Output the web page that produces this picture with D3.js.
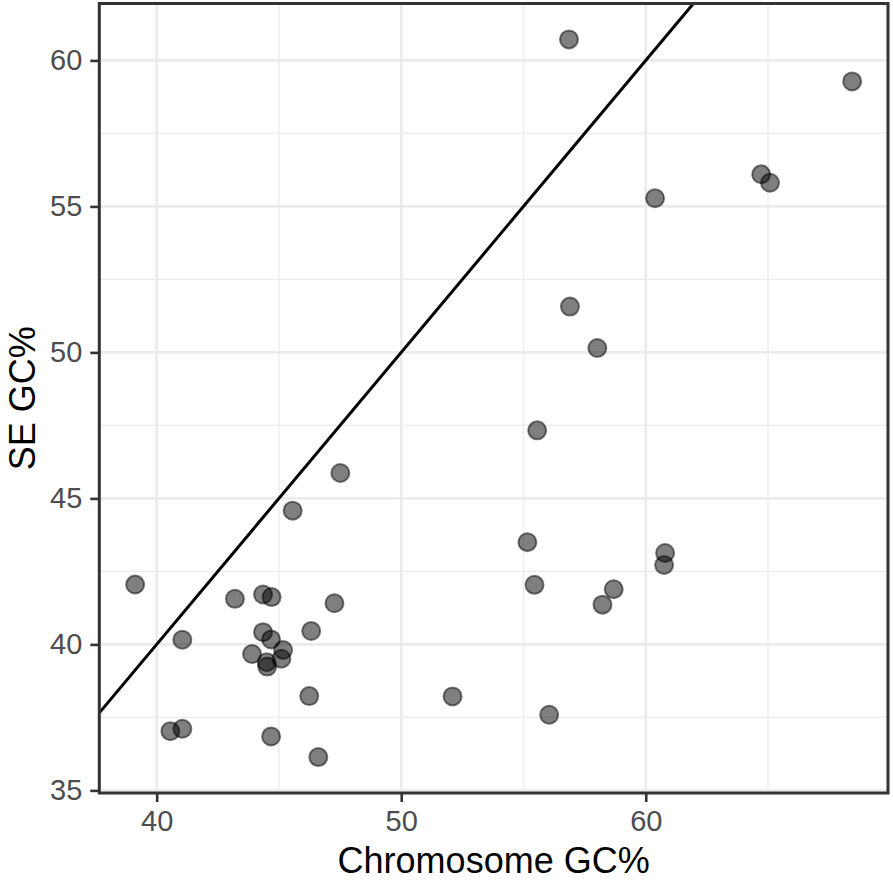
<!DOCTYPE html>
<html>
<head>
<meta charset="utf-8">
<script src="https://cdn.jsdelivr.net/npm/d3@7"></script>
<style>
  html, body { margin: 0; padding: 0; background: #fff; }
  svg { display: block; font-family: "Liberation Sans", Arial, sans-serif; }
</style>
</head>
<body>
<svg id="chart" width="893" height="882"></svg>
<script>
// Data
const chromosomeGC = [
  39.12, 41.05, 43.20, 44.35, 44.70, 47.27, 44.35, 44.68, 46.32, 45.17,
  43.90, 44.50, 44.52, 45.10, 46.24, 40.56, 41.05, 44.68, 46.61,
  55.56, 55.16, 55.45, 58.69, 58.23, 60.79, 60.75, 52.10, 56.05,
  68.44, 64.72, 65.08, 60.38, 56.86, 56.90, 58.02, 47.51, 45.56
];
const seGC = [
  42.05, 40.16, 41.56, 41.71, 41.62, 41.41, 40.42, 40.17, 40.46, 39.81,
  39.67, 39.39, 39.24, 39.51, 38.23, 37.03, 37.11, 36.85, 36.14,
  47.33, 43.50, 42.04, 41.89, 41.36, 43.13, 42.72, 38.22, 37.59,
  59.28, 56.10, 55.81, 55.28, 60.72, 51.57, 50.15, 45.87, 44.58
];
const xTicks = [40, 50, 60];
const xMinor = [45, 55, 65];
const yTicks = [35, 40, 45, 50, 55, 60];
const yMinor = [37.5, 42.5, 47.5, 52.5, 57.5];
const xTitle = "Chromosome GC%";
const yTitle = "SE GC%";

const points = chromosomeGC.map((x, i) => ({ x, y: seGC[i] }));

const panel = { left: 99.3, right: 888, top: 3.5, bottom: 793 };

// ggplot-like 5% expansion
const xExt = d3.extent(chromosomeGC), yExt = d3.extent(seGC);
const xPad = (xExt[1] - xExt[0]) * 0.05, yPad = (yExt[1] - yExt[0]) * 0.05;
const xDom = [xExt[0] - xPad, xExt[1] + xPad];
const yDom = [yExt[0] - yPad, yExt[1] + yPad];

const x = d3.scaleLinear().domain(xDom).range([panel.left, panel.right]);
const y = d3.scaleLinear().domain(yDom).range([panel.bottom, panel.top]);

const svg = d3.select("#chart");

// grid
const grid = svg.append("g");
grid.selectAll(".xmin").data(xMinor.filter(v => v > xDom[0] && v < xDom[1])).join("line")
  .attr("x1", d => x(d)).attr("x2", d => x(d)).attr("y1", panel.top).attr("y2", panel.bottom)
  .attr("stroke", "#ebebeb").attr("stroke-width", 1.3);
grid.selectAll(".ymin").data(yMinor).join("line")
  .attr("y1", d => y(d)).attr("y2", d => y(d)).attr("x1", panel.left).attr("x2", panel.right)
  .attr("stroke", "#ebebeb").attr("stroke-width", 1.3);
grid.selectAll(".xmaj").data(xTicks).join("line")
  .attr("x1", d => x(d)).attr("x2", d => x(d)).attr("y1", panel.top).attr("y2", panel.bottom)
  .attr("stroke", "#ebebeb").attr("stroke-width", 2.6);
grid.selectAll(".ymaj").data(yTicks).join("line")
  .attr("y1", d => y(d)).attr("y2", d => y(d)).attr("x1", panel.left).attr("x2", panel.right)
  .attr("stroke", "#ebebeb").attr("stroke-width", 2.6);

// points
svg.append("g").selectAll("circle").data(points).join("circle")
  .attr("cx", d => x(d.x)).attr("cy", d => y(d.y)).attr("r", 9)
  .attr("fill", "rgba(0,0,0,0.5)")
  .attr("stroke", "rgba(0,0,0,0.5)")
  .attr("stroke-width", 2);

// identity line y = x, clipped to panel
const lo = Math.max(xDom[0], yDom[0]), hi = Math.min(xDom[1], yDom[1]);
svg.append("line")
  .attr("x1", x(lo)).attr("y1", y(lo)).attr("x2", x(hi)).attr("y2", y(hi))
  .attr("stroke", "#000").attr("stroke-width", 3);

// panel border
svg.append("rect")
  .attr("x", panel.left).attr("y", panel.top)
  .attr("width", panel.right - panel.left).attr("height", panel.bottom - panel.top)
  .attr("fill", "none").attr("stroke", "#333333").attr("stroke-width", 3);

// axes
const xAxis = svg.append("g").attr("transform", `translate(0,${panel.bottom})`)
  .call(d3.axisBottom(x).tickValues(xTicks).tickSize(9).tickPadding(8));
const yAxis = svg.append("g").attr("transform", `translate(${panel.left},0)`)
  .call(d3.axisLeft(y).tickValues(yTicks).tickSize(9).tickPadding(8));
[xAxis, yAxis].forEach(a => {
  a.select(".domain").remove();
  a.selectAll(".tick line").attr("stroke", "#333333").attr("stroke-width", 2.6);
  a.selectAll(".tick text").attr("fill", "#4d4d4d").style("font-size", "29px")
    .style("font-family", "'Liberation Sans', Arial, sans-serif");
});
xAxis.selectAll(".tick text").attr("dy", "0.71em");

// titles
svg.append("text")
  .attr("x", (panel.left + panel.right) / 2).attr("y", 873)
  .attr("text-anchor", "middle").attr("fill", "#000")
  .style("font-size", "36px").text(xTitle);
svg.append("text")
  .attr("transform", `translate(35,${(panel.top + panel.bottom) / 2}) rotate(-90)`)
  .attr("text-anchor", "middle").attr("fill", "#000")
  .style("font-size", "36px").text(yTitle);
</script>
</body>
</html>
